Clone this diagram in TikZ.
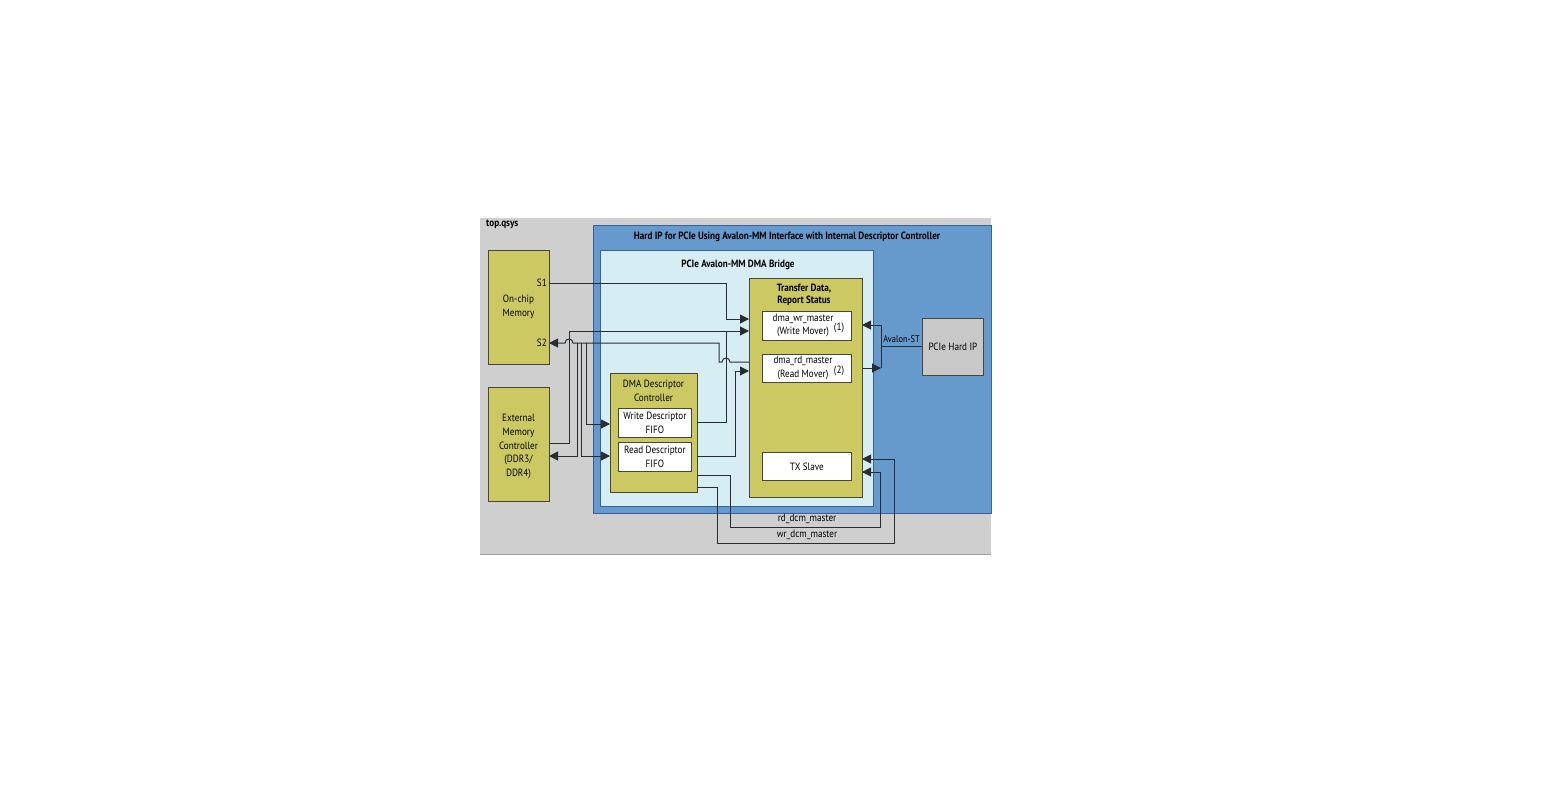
\documentclass[tikz,border=0pt]{standalone}
\usepackage{fontspec}
\setmainfont{PT Sans}[FakeStretch=0.87]
\usetikzlibrary{arrows.meta}
\definecolor{olivey}{RGB}{205,201,98}
\definecolor{hipblue}{RGB}{102,153,204}
\definecolor{hipbord}{RGB}{52,98,160}
\definecolor{bridgec}{RGB}{214,237,244}
\definecolor{qsysc}{RGB}{207,207,207}
\definecolor{qsysb}{RGB}{160,160,160}
\definecolor{wirec}{RGB}{40,45,50}
\definecolor{ybord}{RGB}{70,70,60}
\definecolor{hardc}{RGB}{200,200,200}
\begin{document}
\begin{tikzpicture}[x=1pt,y=-1pt,
  wire/.style={draw=wirec, line width=1pt},
  arr/.style={wire, -{Triangle[length=9pt,width=9pt]}},
  ybox/.style={draw=ybord, fill=olivey, line width=0.8pt, inner sep=0pt, anchor=north west},
  wbox/.style={draw=ybord, fill=white, line width=0.8pt, inner sep=0pt, anchor=north west},
  txt/.style={font=\fontsize{10.5}{13.8}\selectfont, align=center, inner sep=0pt, text=black},
  btxt/.style={font=\fontsize{10.5}{12.5}\selectfont\bfseries, align=center, inner sep=0pt, text=black},
]
\useasboundingbox (0,0) rectangle (1568,809);
% containers
\node[fill=qsysc, inner sep=0pt, minimum width=511pt, minimum height=336pt, anchor=north west] (qsys) at (480,218) {};
\draw[qsysb, line width=1.2pt] (qsys.south west) -- (qsys.south east);
\node[btxt, anchor=west] (qsyslbl) at (486,224) {top.qsys};
\node[draw=hipbord, fill=hipblue, line width=1.3pt, inner sep=0pt, minimum width=398pt, minimum height=288pt, anchor=north west] (hip) at (593,225) {};
\node[btxt] (hiplbl) at (787,236.5) {Hard IP for PCIe Using Avalon-MM Interface with Internal Descriptor Controller};
\node[draw=hipbord, fill=bridgec, line width=1.1pt, inner sep=0pt, minimum width=273pt, minimum height=256pt, anchor=north west] (bridge) at (600,250) {};
\node[btxt] (bridgelbl) at (738,264.5) {PCIe Avalon-MM DMA Bridge};
% memories
\node[ybox, minimum width=61pt, minimum height=114pt] (onchip) at (488,250) {};
\node[txt] (onchiplbl) at (518.5,307) {On-chip\\Memory};
\node[txt, anchor=east] (s1lbl) at (547,283) {S1};
\node[txt, anchor=east] (s2lbl) at (547,343) {S2};
\node[ybox, minimum width=61pt, minimum height=114pt] (emc) at (488,387) {};
\node[txt] (emclbl) at (518.5,446.5) {External\\Memory\\Controller\\(DDR3/\\DDR4)};
% descriptor controller
\node[ybox, minimum width=87pt, minimum height=119pt] (dcc) at (610,373) {};
\node[txt] (dcclbl) at (653.5,390.5) {DMA Descriptor\\Controller};
\node[wbox, minimum width=73pt, minimum height=29pt] (wfifo) at (618,408) {};
\node[txt] at (wfifo.center) {Write Descriptor\\FIFO};
\node[wbox, minimum width=73pt, minimum height=29pt] (rfifo) at (618,442) {};
\node[txt] at (rfifo.center) {Read Descriptor\\FIFO};
% transfer
\node[ybox, minimum width=113pt, minimum height=219pt] (xfer) at (749,278) {};
\node[btxt] (xferlbl) at (804,295) {Transfer Data,\\Report Status};
\node[wbox, minimum width=89pt, minimum height=29pt] (wrm) at (762,311) {};
\node[txt] at (803,325.5) {dma\_wr\_master\\(Write Mover)};
\node[txt] at (839,328) {(1)};
\node[wbox, minimum width=89pt, minimum height=28pt] (rdm) at (762,354) {};
\node[txt] at (803,368) {dma\_rd\_master\\(Read Mover)};
\node[txt] at (839,371) {(2)};
\node[wbox, minimum width=89pt, minimum height=28pt] (txs) at (762,452) {};
\node[txt] at (txs.center) {TX Slave};
% hard ip
\node[draw=ybord, fill=hardc, line width=0.8pt, inner sep=0pt, minimum width=61pt, minimum height=57pt, anchor=north west] (hard) at (922,318) {};
\node[txt] at (hard.center) {PCIe Hard IP};
\node[txt, font=\fontsize{9.6}{12}\selectfont] (avst) at (901.5,339) {Avalon-ST};
% ports
\coordinate (ps1) at (549,283);
\coordinate (ps2) at (549,343);
\coordinate (pemca) at (549,443);
\coordinate (pemcb) at (549,456);
\coordinate (pxwa) at (749,319);
\coordinate (pxwb) at (749,331);
\coordinate (pxr) at (749,362);
\coordinate (pxrb) at (749,371);
\coordinate (pdw) at (610,424);
\coordinate (pdr) at (610,456);
\coordinate (pdwo) at (697,422);
\coordinate (pdro) at (697,456);
\coordinate (prdcm) at (697,475);
\coordinate (pwrcm) at (697,487);
\coordinate (ptxa) at (862,459);
\coordinate (ptxb) at (862,472);
\coordinate (pav1) at (862,325);
\coordinate (pav2) at (862,368);
\coordinate (phard) at (922,346);
\coordinate (avbus) at (881,346);
% wires
\draw[arr] (ps1) -- (726,283) -- (726,319) -- (pxwa);
\draw[arr] (pemca) -- (569,443) -- (569,331) -- (pxwb);
\draw[wire] (pdwo) -- (726,422) -- (726,331);
\draw[arr] (pdro) -- (735,456) -- (735,371) -- (pxrb);
\draw[arr] (pxr) -- (730,362) .. controls (730,356.7) and (722,356.7) .. (722,362) -- (719,362) -- (719,343)
  -- (573,343) .. controls (573,337.7) and (565,337.7) .. (565,343) -- (ps2);
\draw[arr] (577,343) -- (577,456) -- (pemcb);
\draw[arr] (581,343) -- (581,456) -- (pdr);
\draw[arr] (586,343) -- (586,424) -- (pdw);
% avalon-st
\draw[wire] (phard) -- (avbus);
\draw[arr] (881,325) -- (pav1);
\draw[wire] (881,325) -- (881,368);
\draw[arr] (pav2) -- (881,368);
% dcm masters
\draw[arr] (prdcm) -- (730,475) -- (730,527) -- (880,527) -- (880,472) -- (ptxb);
\draw[arr] (pwrcm) -- (717,487) -- (717,543) -- (894,543) -- (894,459) -- (ptxa);
\node[txt] (rdlbl) at (807,519) {rd\_dcm\_master};
\node[txt] (wrlbl) at (807,535) {wr\_dcm\_master};
\end{tikzpicture}
\end{document}
